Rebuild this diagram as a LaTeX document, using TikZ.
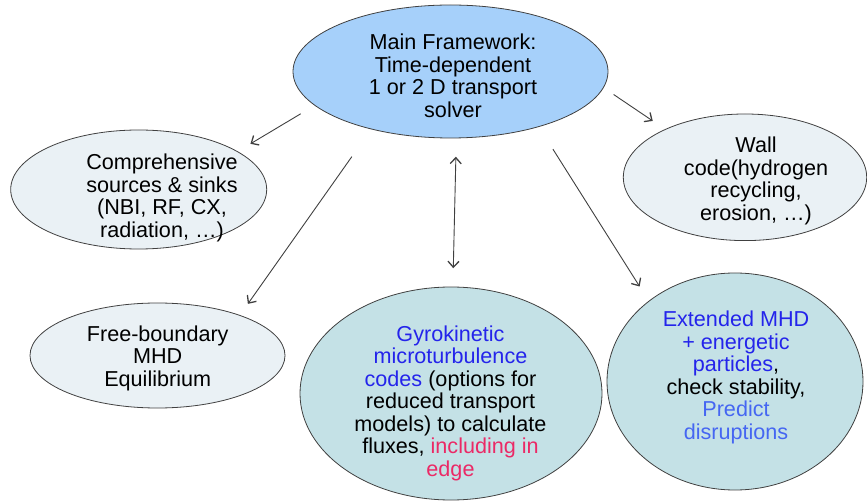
\documentclass[tikz,border=0pt]{standalone}
\usepackage{fontspec}
\setmainfont{Liberation Sans}
\usetikzlibrary{shapes.geometric,arrows.meta}

\newlength{\du}
\setlength{\du}{1pt}

\definecolor{frameworkfill}{rgb}{0.650000, 0.815000, 0.980000}
\definecolor{sidefill}{rgb}{0.918000, 0.945000, 0.961000}
\definecolor{codefill}{rgb}{0.769000, 0.882000, 0.902000}
\definecolor{rimcolor}{rgb}{0.250000, 0.250000, 0.250000}
\definecolor{gkblue}{rgb}{0.140000, 0.140000, 0.920000}
\definecolor{predictblue}{rgb}{0.270000, 0.400000, 0.950000}
\definecolor{edgepink}{rgb}{0.920000, 0.160000, 0.400000}

\tikzset{
  blob/.style={ellipse, draw=rimcolor, line width=0.8\du, inner sep=0pt, outer sep=0pt},
  blobtext/.style={align=center, inner sep=0pt, text=black,
    font=\fontsize{21.6}{22.5}\selectfont},
  link/.style={draw=black!75, line width=0.9\du},
  >={Straight Barb[length=6pt,width=11pt,line width=1.3pt]},
}

\begin{document}
\begin{tikzpicture}
\pgftransformxscale{1.000000}
\pgftransformyscale{-1.000000}
\useasboundingbox (0\du,0\du) rectangle (867\du,502\du);
% ellipses
\node[blob, fill=frameworkfill, minimum width=315\du, minimum height=133\du] (framework) at (450.500000\du,71.500000\du) {};
\node[blob, fill=sidefill, minimum width=256\du, minimum height=119\du] (sources) at (138.700000\du,189.500000\du) {};
\node[blob, fill=sidefill, minimum width=243.4\du, minimum height=126.6\du] (wall) at (745.000000\du,177.300000\du) {};
\node[blob, fill=sidefill, minimum width=255\du, minimum height=105\du] (freeb) at (157.500000\du,355.500000\du) {};
\node[blob, fill=codefill, minimum width=302\du, minimum height=213\du] (gyro) at (451.000000\du,393.500000\du) {};
\node[blob, fill=codefill, minimum width=256\du, minimum height=217\du] (extmhd) at (735.000000\du,381.500000\du) {};
% texts
\node[blobtext] (frameworktext) at (453.000000\du,75.800000\du) {Main Framework:\\Time-dependent\\1 or 2 D transport\\solver};
\node[blobtext] (sourcestext) at (162.000000\du,198.000000\du) {Comprehensive\\sources \& sinks\\(NBI, RF, CX,\\radiation, \dots)};
\node[blobtext] (walltext) at (756.000000\du,181.000000\du) {Wall\\code(hydrogen\\recycling,\\erosion, \dots)};
\node[blobtext] (freebtext) at (157.700000\du,358.000000\du) {Free-boundary\\MHD\\Equilibrium};
\node[blobtext] (gyrotext) at (450.500000\du,403.000000\du) {\textcolor{gkblue}{Gyrokinetic}\\\textcolor{gkblue}{microturbulence}\\\textcolor{gkblue}{codes} (options for\\reduced transport\\models) to calculate\\fluxes, \textcolor{edgepink}{including in}\\\textcolor{edgepink}{edge}};
\node[blobtext] (extmhdtext) at (736.000000\du,377.500000\du) {\textcolor{gkblue}{Extended MHD}\\\textcolor{gkblue}{+ energetic}\\\textcolor{gkblue}{particles},\\check stability,\\\textcolor{predictblue}{Predict}\\\textcolor{predictblue}{disruptions}};
% connectors
\draw[link, ->, shorten <=16.5\du, shorten >=15.2\du] (framework.194) -- (sources.21);
\draw[link, ->, shorten <=33.8\du, shorten >=14.1\du] (framework.216) -- (freeb.26);
\draw[link, <->, shorten <=18.8\du, shorten >=18.8\du] (framework.275) -- (gyro.89);
\draw[link, ->, shorten <=26.6\du, shorten >=17.4\du] (framework.328) -- (extmhd.137);
\draw[link, ->, shorten <=12.4\du, shorten >=15.2\du] (framework.354) -- (wall.149);
\end{tikzpicture}
\end{document}
